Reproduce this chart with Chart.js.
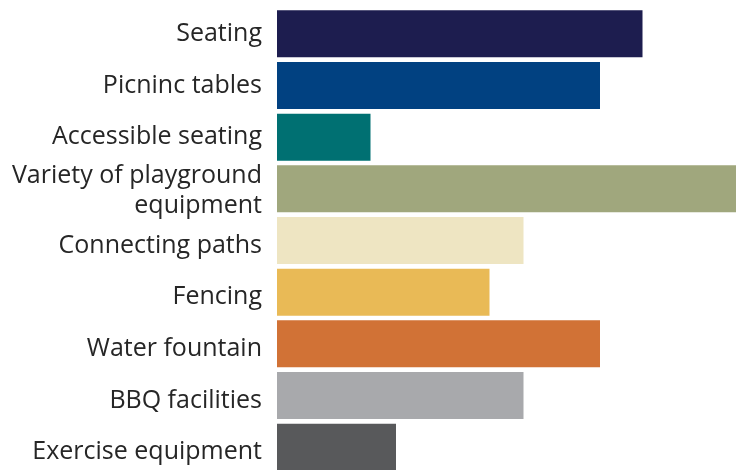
<!DOCTYPE html>
<html>
<head>
<meta charset="utf-8">
<script src="https://cdn.jsdelivr.net/npm/chart.js@4.4.1/dist/chart.umd.min.js"></script>
<style>
 html,body{margin:0;padding:0;background:#fff;overflow:hidden;}
 #wrap{position:relative;width:736px;height:473px;}
</style>
</head>
<body>
<div id="wrap"><canvas id="c"></canvas></div>
<script>
const labels = ["Seating","Picninc tables","Accessible seating",["Variety of playground","equipment"],"Connecting paths","Fencing","Water fountain","BBQ facilities","Exercise equipment"];
const counts = [43,38,11,54,29,25,38,29,14];
const colors = ["#1D1D4F","#014181","#007072","#A0A77D","#EEE5C2","#E9BA56","#D17236","#A8A9AC","#58595B"];

// labels under the two-line one sit a little lower in the original
const nudgeLabels={
 id:'nudgeLabels',
 afterLayout(chart){
  const s=chart.scales.y;
  s.getLabelItems().forEach((it,i)=>{
   if(i===3) it.options.translation[1]+=2;
   if(i>3) it.options.translation[1]+=5;
  });
 }
};

const ctx=document.getElementById('c').getContext('2d');
new Chart(ctx,{
 type:'bar',
 data:{
  labels:labels,
  datasets:[{data:counts,backgroundColor:colors,borderWidth:0,barPercentage:0.91,categoryPercentage:1}]
 },
 options:{
  indexAxis:'y',
  responsive:true,
  maintainAspectRatio:false,
  animation:false,
  layout:{padding:{top:8,left:0,right:0,bottom:0}},
  plugins:{legend:{display:false},tooltip:{enabled:false}},
  scales:{
   x:{display:false,min:0,max:54},
   y:{
    grid:{display:false,drawTicks:false},
    border:{display:false},
    afterFit:(s)=>{s.width=277;s.paddingTop=0;s.paddingBottom=0;},
    ticks:{autoSkip:false,padding:15,color:'#262626',font:{family:'"Open Sans"',size:25,lineHeight:1.17}}
   }
  }
 },
 plugins:[nudgeLabels]
});
</script>
</body>
</html>
